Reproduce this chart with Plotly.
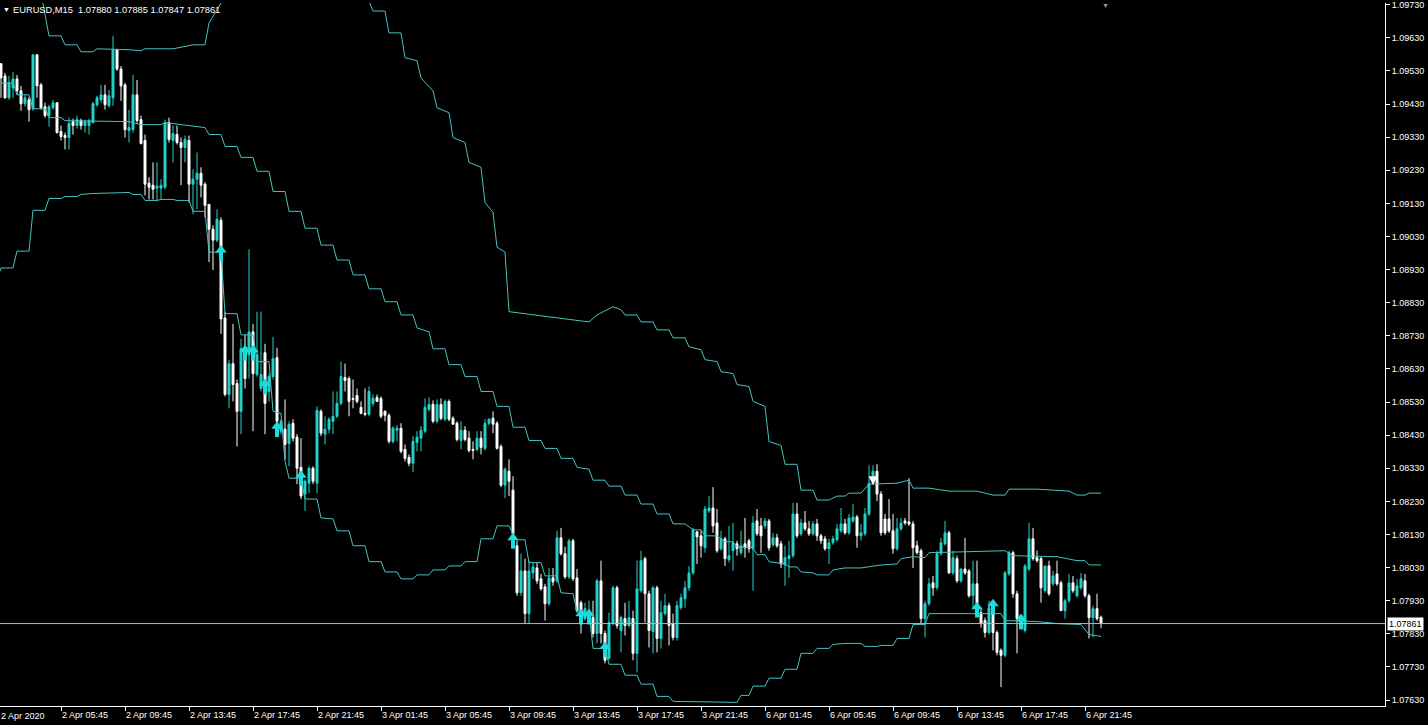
import plotly.graph_objects as go

# EURUSD M15, bar index 1 = first visible candle (index 0 = 2 Apr 01:45)
bar_idx = list(range(1, 277))

open_ = [
    1.09552, 1.09515, 1.09449, 1.09479, 1.09506, 1.09470, 1.09431, 1.09443, 1.09416, 1.09579,
    1.09488, 1.09422, 1.09395, 1.09419, 1.09434, 1.09347, 1.09335, 1.09329, 1.09377, 1.09365,
    1.09380, 1.09365, 1.09365, 1.09374, 1.09428, 1.09443, 1.09458, 1.09425, 1.09449, 1.09594,
    1.09536, 1.09488, 1.09350, 1.09353, 1.09458, 1.09383, 1.09320, 1.09191, 1.09185, 1.09176,
    1.09176, 1.09179, 1.09374, 1.09320, 1.09338, 1.09314, 1.09299, 1.09320, 1.09188, 1.09203,
    1.09221, 1.09188, 1.09127, 1.09052, 1.09019, 1.09079, 1.08784, 1.08553, 1.08646, 1.08586,
    1.08502, 1.08661, 1.08673, 1.08742, 1.08613, 1.08571, 1.08679, 1.08562, 1.08607, 1.08664,
    1.08442, 1.08448, 1.08405, 1.08466, 1.08424, 1.08333, 1.08252, 1.08285, 1.08330, 1.08285,
    1.08502, 1.08433, 1.08448, 1.08472, 1.08487, 1.08526, 1.08604, 1.08601, 1.08541, 1.08550,
    1.08514, 1.08496, 1.08493, 1.08526, 1.08544, 1.08541, 1.08502, 1.08490, 1.08411, 1.08445,
    1.08451, 1.08387, 1.08363, 1.08345, 1.08408, 1.08421, 1.08442, 1.08508, 1.08523, 1.08472,
    1.08523, 1.08478, 1.08532, 1.08481, 1.08466, 1.08414, 1.08445, 1.08421, 1.08387, 1.08387,
    1.08421, 1.08390, 1.08466, 1.08481, 1.08466, 1.08396, 1.08279, 1.08321, 1.08264, 1.08096,
    1.07954, 1.08020, 1.07891, 1.08014, 1.08029, 1.07996, 1.07972, 1.07921, 1.07999, 1.07990,
    1.08120, 1.08072, 1.08002, 1.08111, 1.07999, 1.07924, 1.07876, 1.07876, 1.07879, 1.07831,
    1.07990, 1.07831, 1.07756, 1.07861, 1.07969, 1.07840, 1.07876, 1.07855, 1.07876, 1.07771,
    1.07960, 1.08057, 1.07951, 1.07837, 1.07969, 1.07816, 1.07891, 1.07915, 1.07861, 1.07819,
    1.07909, 1.07936, 1.07969, 1.08014, 1.08138, 1.08126, 1.08090, 1.08201, 1.08210, 1.08165,
    1.08087, 1.08117, 1.08054, 1.08081, 1.08102, 1.08075, 1.08102, 1.08111, 1.08087, 1.08171,
    1.08156, 1.08156, 1.08171, 1.08099, 1.08120, 1.08102, 1.08038, 1.08057, 1.08066, 1.08192,
    1.08132, 1.08165, 1.08147, 1.08132, 1.08162, 1.08126, 1.08117, 1.08087, 1.08105, 1.08114,
    1.08141, 1.08162, 1.08135, 1.08171, 1.08183, 1.08126, 1.08132, 1.08192, 1.08306, 1.08321,
    1.08252, 1.08177, 1.08177, 1.08141, 1.08087, 1.08147, 1.08171, 1.08168, 1.08162, 1.08096,
    1.08081, 1.07876, 1.07921, 1.07984, 1.07969, 1.08072, 1.08102, 1.08135, 1.08014, 1.08057,
    1.07990, 1.08026, 1.08020, 1.07945, 1.07981, 1.07894, 1.07870, 1.07834, 1.07891, 1.07834,
    1.07780, 1.07765, 1.08011, 1.08075, 1.07951, 1.07846, 1.07840, 1.08026, 1.08117, 1.08060,
    1.08057, 1.07960, 1.08035, 1.07981, 1.08011, 1.07984, 1.07900, 1.07930, 1.07984, 1.07945,
    1.07969, 1.07990, 1.07945, 1.07879, 1.07906, 1.07880,
]
high = [
    1.09552, 1.09524, 1.09515, 1.09527, 1.09518, 1.09485, 1.09458, 1.09452, 1.09579, 1.09579,
    1.09494, 1.09434, 1.09428, 1.09443, 1.09434, 1.09365, 1.09344, 1.09389, 1.09386, 1.09395,
    1.09386, 1.09383, 1.09386, 1.09437, 1.09455, 1.09488, 1.09488, 1.09473, 1.09636, 1.09597,
    1.09545, 1.09494, 1.09413, 1.09518, 1.09503, 1.09395, 1.09338, 1.09209, 1.09254, 1.09254,
    1.09203, 1.09383, 1.09389, 1.09365, 1.09365, 1.09329, 1.09335, 1.09335, 1.09233, 1.09284,
    1.09239, 1.09194, 1.09127, 1.09064, 1.09112, 1.09088, 1.08803, 1.08658, 1.08766, 1.08598,
    1.08721, 1.08733, 1.08992, 1.08766, 1.08803, 1.08803, 1.08706, 1.08616, 1.08727, 1.08694,
    1.08478, 1.08538, 1.08472, 1.08478, 1.08433, 1.08421, 1.08297, 1.08336, 1.08336, 1.08517,
    1.08508, 1.08487, 1.08484, 1.08562, 1.08562, 1.08652, 1.08646, 1.08607, 1.08598, 1.08571,
    1.08532, 1.08571, 1.08577, 1.08553, 1.08553, 1.08547, 1.08505, 1.08496, 1.08457, 1.08460,
    1.08466, 1.08402, 1.08372, 1.08427, 1.08442, 1.08457, 1.08541, 1.08544, 1.08535, 1.08538,
    1.08541, 1.08538, 1.08538, 1.08487, 1.08472, 1.08472, 1.08457, 1.08442, 1.08411, 1.08442,
    1.08442, 1.08478, 1.08481, 1.08502, 1.08472, 1.08402, 1.08333, 1.08357, 1.08306, 1.08111,
    1.08072, 1.08057, 1.08051, 1.08045, 1.08045, 1.08011, 1.07981, 1.08029, 1.08029, 1.08141,
    1.08150, 1.08093, 1.08117, 1.08117, 1.08026, 1.07930, 1.07924, 1.07930, 1.07930, 1.07996,
    1.08051, 1.07840, 1.07894, 1.07975, 1.07975, 1.07885, 1.07924, 1.07930, 1.07900, 1.08051,
    1.08081, 1.08063, 1.07960, 1.07975, 1.07975, 1.07930, 1.07951, 1.07924, 1.07891, 1.07930,
    1.07951, 1.07990, 1.08035, 1.08150, 1.08141, 1.08141, 1.08216, 1.08246, 1.08273, 1.08207,
    1.08141, 1.08123, 1.08156, 1.08165, 1.08111, 1.08141, 1.08180, 1.08117, 1.08186, 1.08207,
    1.08180, 1.08180, 1.08177, 1.08135, 1.08132, 1.08111, 1.08096, 1.08111, 1.08225, 1.08225,
    1.08177, 1.08201, 1.08171, 1.08171, 1.08177, 1.08132, 1.08126, 1.08117, 1.08126, 1.08162,
    1.08210, 1.08177, 1.08192, 1.08222, 1.08189, 1.08162, 1.08210, 1.08339, 1.08339, 1.08342,
    1.08261, 1.08192, 1.08237, 1.08192, 1.08180, 1.08180, 1.08180, 1.08300, 1.08171, 1.08111,
    1.08087, 1.07930, 1.07999, 1.08005, 1.08081, 1.08120, 1.08171, 1.08141, 1.08081, 1.08066,
    1.08026, 1.08120, 1.08026, 1.08051, 1.08051, 1.07909, 1.07879, 1.07930, 1.07900, 1.07840,
    1.07786, 1.08020, 1.08081, 1.08081, 1.07960, 1.07885, 1.08041, 1.08165, 1.08150, 1.08081,
    1.08063, 1.08035, 1.08051, 1.08020, 1.08051, 1.07990, 1.07936, 1.08011, 1.08005, 1.07996,
    1.08014, 1.08011, 1.07951, 1.07915, 1.07951, 1.07885,
]
low = [
    1.09449, 1.09446, 1.09443, 1.09449, 1.09458, 1.09410, 1.09422, 1.09377, 1.09410, 1.09449,
    1.09413, 1.09389, 1.09362, 1.09413, 1.09341, 1.09320, 1.09293, 1.09293, 1.09338, 1.09356,
    1.09353, 1.09344, 1.09338, 1.09371, 1.09422, 1.09434, 1.09413, 1.09419, 1.09425, 1.09530,
    1.09440, 1.09329, 1.09314, 1.09344, 1.09374, 1.09308, 1.09154, 1.09142, 1.09142, 1.09139,
    1.09142, 1.09173, 1.09314, 1.09254, 1.09308, 1.09185, 1.09254, 1.09133, 1.09097, 1.09112,
    1.09148, 1.09088, 1.08953, 1.08929, 1.09013, 1.08736, 1.08547, 1.08511, 1.08532, 1.08396,
    1.08433, 1.08571, 1.08601, 1.08442, 1.08607, 1.08562, 1.08433, 1.08532, 1.08598, 1.08466,
    1.08433, 1.08357, 1.08336, 1.08411, 1.08282, 1.08237, 1.08201, 1.08255, 1.08282, 1.08255,
    1.08427, 1.08402, 1.08436, 1.08433, 1.08481, 1.08520, 1.08562, 1.08487, 1.08511, 1.08526,
    1.08493, 1.08487, 1.08487, 1.08517, 1.08532, 1.08481, 1.08472, 1.08405, 1.08405, 1.08411,
    1.08375, 1.08351, 1.08336, 1.08318, 1.08381, 1.08381, 1.08436, 1.08502, 1.08466, 1.08466,
    1.08475, 1.08472, 1.08472, 1.08463, 1.08411, 1.08387, 1.08411, 1.08378, 1.08357, 1.08381,
    1.08372, 1.08384, 1.08460, 1.08436, 1.08387, 1.08273, 1.08240, 1.08246, 1.08126, 1.07945,
    1.07945, 1.07861, 1.07861, 1.07996, 1.07981, 1.07960, 1.07870, 1.07915, 1.07975, 1.07984,
    1.08066, 1.07996, 1.07996, 1.07990, 1.07894, 1.07831, 1.07870, 1.07870, 1.07819, 1.07801,
    1.07801, 1.07741, 1.07750, 1.07855, 1.07846, 1.07774, 1.07825, 1.07849, 1.07750, 1.07714,
    1.07954, 1.07864, 1.07789, 1.07771, 1.07774, 1.07786, 1.07885, 1.07795, 1.07810, 1.07810,
    1.07903, 1.07909, 1.07960, 1.08008, 1.08041, 1.08060, 1.08075, 1.08195, 1.08135, 1.08075,
    1.08081, 1.08035, 1.08045, 1.08020, 1.08066, 1.08069, 1.08060, 1.08075, 1.07960, 1.08126,
    1.08075, 1.08147, 1.08081, 1.08093, 1.08090, 1.08029, 1.07975, 1.07999, 1.08060, 1.08120,
    1.08126, 1.08141, 1.08126, 1.08126, 1.08111, 1.08102, 1.08081, 1.08041, 1.08099, 1.08108,
    1.08135, 1.08129, 1.08129, 1.08165, 1.08090, 1.08111, 1.08126, 1.08186, 1.08297, 1.08231,
    1.08126, 1.08129, 1.08135, 1.08072, 1.08081, 1.08141, 1.08159, 1.08156, 1.08029, 1.08069,
    1.07861, 1.07819, 1.07915, 1.07945, 1.07963, 1.08066, 1.08096, 1.08011, 1.08008, 1.07984,
    1.07984, 1.08008, 1.07939, 1.07906, 1.07915, 1.07849, 1.07819, 1.07828, 1.07780, 1.07765,
    1.07669, 1.07759, 1.08005, 1.07939, 1.07771, 1.07846, 1.07834, 1.08020, 1.08051, 1.08045,
    1.07924, 1.07954, 1.07945, 1.07975, 1.07975, 1.07900, 1.07876, 1.07924, 1.07954, 1.07939,
    1.07963, 1.07939, 1.07816, 1.07819, 1.07870, 1.07847,
]
close = [
    1.09509, 1.09449, 1.09494, 1.09506, 1.09470, 1.09431, 1.09449, 1.09413, 1.09579, 1.09485,
    1.09419, 1.09395, 1.09422, 1.09434, 1.09344, 1.09332, 1.09329, 1.09371, 1.09365, 1.09383,
    1.09365, 1.09377, 1.09380, 1.09431, 1.09449, 1.09458, 1.09428, 1.09455, 1.09594, 1.09536,
    1.09485, 1.09353, 1.09359, 1.09458, 1.09380, 1.09311, 1.09188, 1.09179, 1.09173, 1.09182,
    1.09185, 1.09374, 1.09323, 1.09341, 1.09314, 1.09299, 1.09323, 1.09188, 1.09203, 1.09221,
    1.09185, 1.09124, 1.09052, 1.09019, 1.09082, 1.08781, 1.08553, 1.08646, 1.08583, 1.08502,
    1.08691, 1.08601, 1.08742, 1.08616, 1.08673, 1.08613, 1.08526, 1.08607, 1.08661, 1.08472,
    1.08472, 1.08402, 1.08463, 1.08421, 1.08330, 1.08246, 1.08291, 1.08330, 1.08291, 1.08505,
    1.08436, 1.08448, 1.08478, 1.08487, 1.08526, 1.08607, 1.08595, 1.08532, 1.08538, 1.08532,
    1.08496, 1.08493, 1.08562, 1.08541, 1.08532, 1.08487, 1.08490, 1.08411, 1.08451, 1.08451,
    1.08381, 1.08360, 1.08345, 1.08411, 1.08424, 1.08445, 1.08514, 1.08523, 1.08472, 1.08523,
    1.08481, 1.08532, 1.08478, 1.08463, 1.08417, 1.08445, 1.08417, 1.08384, 1.08384, 1.08421,
    1.08393, 1.08466, 1.08478, 1.08463, 1.08390, 1.08279, 1.08327, 1.08291, 1.08132, 1.07954,
    1.08020, 1.07891, 1.08020, 1.08032, 1.07990, 1.07966, 1.07921, 1.07999, 1.07987, 1.08120,
    1.08072, 1.08002, 1.08111, 1.07996, 1.07900, 1.07879, 1.07906, 1.07900, 1.07831, 1.07990,
    1.07831, 1.07750, 1.07864, 1.07969, 1.07855, 1.07879, 1.07855, 1.07879, 1.07771, 1.07966,
    1.08051, 1.07951, 1.07840, 1.07969, 1.07816, 1.07894, 1.07915, 1.07855, 1.07819, 1.07915,
    1.07939, 1.07969, 1.08014, 1.08144, 1.08123, 1.08096, 1.08207, 1.08210, 1.08156, 1.08081,
    1.08117, 1.08057, 1.08066, 1.08105, 1.08087, 1.08096, 1.08090, 1.08087, 1.08165, 1.08132,
    1.08126, 1.08171, 1.08090, 1.08120, 1.08096, 1.08041, 1.08060, 1.08066, 1.08192, 1.08126,
    1.08165, 1.08147, 1.08132, 1.08162, 1.08126, 1.08111, 1.08087, 1.08105, 1.08117, 1.08147,
    1.08162, 1.08135, 1.08180, 1.08183, 1.08126, 1.08135, 1.08192, 1.08285, 1.08321, 1.08252,
    1.08135, 1.08135, 1.08141, 1.08087, 1.08147, 1.08165, 1.08165, 1.08162, 1.08090, 1.08075,
    1.07876, 1.07921, 1.07981, 1.07969, 1.08072, 1.08105, 1.08135, 1.08014, 1.08060, 1.07990,
    1.08026, 1.08014, 1.07945, 1.07981, 1.07921, 1.07861, 1.07834, 1.07909, 1.07834, 1.07774,
    1.07765, 1.08014, 1.08075, 1.07951, 1.07876, 1.07885, 1.08035, 1.08117, 1.08057, 1.08051,
    1.07969, 1.08035, 1.07951, 1.08005, 1.07981, 1.07900, 1.07930, 1.07984, 1.07960, 1.07975,
    1.07996, 1.07945, 1.07879, 1.07906, 1.07876, 1.07861,
]

# channel lines (vertices: bar index, price); None = off-screen gap
upper_idx = [11, 13, 16, 17, 20, 21, 24, 25, 33, 36, 37, 44, 49, 52, 53, 56, 57, None,
             92, 94, 97, 98, 101, 102, 105, 106, 109, 110, 113, 114, 117, 118, 121, 122,
             124, 125, 127, 128, 148, 150, 154, 156, 157, 160, 161, 164, 165, 168, 169, 172,
             173, 176, 177, 180, 181, 184, 185, 188, 189, 192, 193, 196, 197, 200, 201, 204,
             205, 208, 210, 212, 213, 216, 218, 225, 228, 229, 233, 238, 245, 249, 252, 253,
             260, 263, 268, 270, 272, 273, 276]
upper_val = [1.09765, 1.09636, 1.09636, 1.09609, 1.09609, 1.09588, 1.09588, 1.09597, 1.09594,
             1.09591, 1.09597, 1.09597, 1.09609, 1.09609, 1.09675, 1.09735, 1.09780, None,
             1.09771, 1.09711, 1.09711, 1.09645, 1.09645, 1.09570, 1.09561, 1.09509, 1.09470,
             1.09419, 1.09404, 1.09329, 1.09314, 1.09254, 1.09239, 1.09133, 1.09103, 1.08998,
             1.08983, 1.08803, 1.08772, 1.08793, 1.08818, 1.08809, 1.08793, 1.08793, 1.08772,
             1.08772, 1.08748, 1.08748, 1.08724, 1.08724, 1.08697, 1.08688, 1.08658, 1.08652,
             1.08622, 1.08616, 1.08583, 1.08577, 1.08532, 1.08517, 1.08411, 1.08399, 1.08342,
             1.08342, 1.08264, 1.08264, 1.08234, 1.08234, 1.08246, 1.08246, 1.08255, 1.08255,
             1.08282, 1.08285, 1.08294, 1.08270, 1.08270, 1.08261, 1.08261, 1.08249, 1.08249,
             1.08267, 1.08267, 1.08264, 1.08261, 1.08249, 1.08249, 1.08255, 1.08255]

middle_idx = [1, 4, 5, 8, 9, 12, 13, 16, 17, 33, 36, 41, 42, 48, 52, 53, 56, 57, 60, 61, 64,
              65, 68, 69, 72, 73, 76, 77, 80, 81, 84, 85, 88, 89, 92, 93, 96, 97, 100, 101,
              104, 105, 108, 109, 112, 113, 116, 117, 120, 121, 124, 125, 128, 129, 132, 133,
              136, 137, 140, 141, 144, 145, 148, 149, 152, 153, 156, 157, 160, 161, 164, 165,
              168, 169, 172, 174, 176, 177, 180, 182, 184, 185, 189, 190, 192, 193, 197, 198,
              200, 201, 204, 205, 208, 209, 212, 216, 221, 225, 226, 229, 232, 233, 252, 254,
              265, 270, 272, 273, 276]
middle_val = [1.09494, 1.09494, 1.09458, 1.09458, 1.09416, 1.09416, 1.09389, 1.09389, 1.09380,
              1.09377, 1.09368, 1.09368, 1.09374, 1.09365, 1.09359, 1.09338, 1.09338, 1.09302,
              1.09302, 1.09269, 1.09269, 1.09227, 1.09227, 1.09166, 1.09166, 1.09106, 1.09106,
              1.09055, 1.09055, 1.09004, 1.09004, 1.08959, 1.08959, 1.08914, 1.08914, 1.08872,
              1.08872, 1.08833, 1.08833, 1.08793, 1.08793, 1.08754, 1.08742, 1.08691, 1.08691,
              1.08643, 1.08643, 1.08607, 1.08607, 1.08562, 1.08562, 1.08517, 1.08517, 1.08454,
              1.08454, 1.08414, 1.08414, 1.08390, 1.08390, 1.08360, 1.08360, 1.08333, 1.08327,
              1.08294, 1.08294, 1.08276, 1.08276, 1.08249, 1.08249, 1.08222, 1.08222, 1.08192,
              1.08192, 1.08162, 1.08162, 1.08144, 1.08144, 1.08126, 1.08126, 1.08108, 1.08108,
              1.08093, 1.08090, 1.08069, 1.08069, 1.08048, 1.08041, 1.08032, 1.08032, 1.08017,
              1.08014, 1.08008, 1.08008, 1.08023, 1.08029, 1.08029, 1.08038, 1.08041, 1.08057,
              1.08063, 1.08060, 1.08075, 1.08081, 1.08066, 1.08063, 1.08051, 1.08051, 1.08038,
              1.08038]

lower_idx = [0, 1, 4, 5, 8, 9, 12, 13, 16, 17, 20, 21, 24, 33, 34, 36, 37, 40, 41, 44, 45,
             48, 49, 52, 53, 56, 57, 60, 61, 64, 65, 68, 69, 71, 72, 73, 76, 77, 80, 81, 84,
             85, 88, 89, 92, 93, 96, 97, 100, 101, 104, 105, 108, 109, 112, 113, 116, 117,
             120, 121, 124, 125, 128, 129, 130, 132, 133, 136, 137, 140, 141, 144, 145, 148,
             149, 152, 153, 156, 157, 160, 161, 164, 165, 168, 169, 185, 186, 188, 189, 192,
             193, 196, 197, 200, 201, 204, 205, 208, 209, 212, 216, 217, 220, 221, 224, 225,
             228, 229, 232, 233, 251, 252, 260, 265, 271, 273, 276]
lower_val = [1.08899, 1.08935, 1.08935, 1.08986, 1.08986, 1.09109, 1.09109, 1.09145, 1.09145,
             1.09151, 1.09151, 1.09157, 1.09160, 1.09163, 1.09157, 1.09157, 1.09139, 1.09139,
             1.09142, 1.09142, 1.09139, 1.09139, 1.09106, 1.09106, 1.08983, 1.08983, 1.08797,
             1.08797, 1.08733, 1.08733, 1.08652, 1.08652, 1.08502, 1.08496, 1.08351, 1.08300,
             1.08300, 1.08237, 1.08237, 1.08180, 1.08177, 1.08141, 1.08141, 1.08096, 1.08096,
             1.08048, 1.08048, 1.08017, 1.08017, 1.07996, 1.07996, 1.08008, 1.08008, 1.08023,
             1.08023, 1.08035, 1.08035, 1.08048, 1.08048, 1.08117, 1.08117, 1.08156, 1.08156,
             1.08132, 1.08114, 1.08114, 1.08045, 1.08045, 1.08005, 1.08005, 1.07954, 1.07951,
             1.07900, 1.07894, 1.07786, 1.07786, 1.07738, 1.07738, 1.07705, 1.07705, 1.07678,
             1.07678, 1.07641, 1.07641, 1.07626, 1.07623, 1.07644, 1.07644, 1.07672, 1.07672,
             1.07696, 1.07696, 1.07723, 1.07723, 1.07771, 1.07771, 1.07786, 1.07786, 1.07798,
             1.07801, 1.07801, 1.07792, 1.07792, 1.07795, 1.07795, 1.07816, 1.07816, 1.07858,
             1.07858, 1.07891, 1.07891, 1.07870, 1.07867, 1.07861, 1.07858, 1.07828, 1.07822]

# signal arrows (centre of the arrow glyph)
buy_idx = [56, 62, 64, 67, 70, 76, 129, 146, 148, 152, 245, 249, 256]
buy_val = [1.08980, 1.08679, 1.08679, 1.08577, 1.08448, 1.08300, 1.08111, 1.07882, 1.07882,
           1.07783, 1.07903, 1.07912, 1.07867]
sell_idx = [219]
sell_val = [1.08279]

last_price = 1.07861
title_text = "EURUSD,M15  1.07880 1.07885 1.07847 1.07861"

y_ticks = [1.07630, 1.07730, 1.07830, 1.07930, 1.08030, 1.08130, 1.08230, 1.08330,
           1.08430, 1.08530, 1.08630, 1.08730, 1.08830, 1.08930, 1.09030, 1.09130,
           1.09230, 1.09330, 1.09430, 1.09530, 1.09630, 1.09730]
x_tick_idx = [16, 32, 48, 64, 80, 96, 112, 128, 144, 160, 176, 192, 208, 224, 240, 256, 272]
x_tick_text = ["2 Apr 05:45", "2 Apr 09:45", "2 Apr 13:45", "2 Apr 17:45", "2 Apr 21:45",
               "3 Apr 01:45", "3 Apr 05:45", "3 Apr 09:45", "3 Apr 13:45", "3 Apr 17:45",
               "3 Apr 21:45", "6 Apr 01:45", "6 Apr 05:45", "6 Apr 09:45", "6 Apr 13:45",
               "6 Apr 17:45", "6 Apr 21:45"]
first_label = "2 Apr 2020"

BULL = "#22D3C8"
BEAR = "#FFFFFF"
LINE_C = "#45C4C0"
ARROW_C = "#1EDCDC"

fig = go.Figure()

for idx, val in [(upper_idx, upper_val), (middle_idx, middle_val), (lower_idx, lower_val)]:
    fig.add_trace(go.Scatter(
        x=idx, y=val, mode="lines",
        line=dict(color=LINE_C, width=1),
        connectgaps=False, hoverinfo="skip"
    ))

fig.add_trace(go.Candlestick(
    x=bar_idx, open=open_, high=high, low=low, close=close,
    increasing=dict(line=dict(color=BULL, width=1), fillcolor=BULL),
    decreasing=dict(line=dict(color=BEAR, width=1), fillcolor=BEAR),
    whiskerwidth=0, hoverinfo="skip"
))

# buy arrows: head + shaft (about 3 px above / below the centre)
fig.add_trace(go.Scatter(
    x=buy_idx, y=[v - 0.00009 for v in buy_val], mode="markers",
    marker=dict(symbol="line-ns", size=7, line=dict(color=ARROW_C, width=4)),
    hoverinfo="skip"
))
fig.add_trace(go.Scatter(
    x=buy_idx, y=[v + 0.00009 for v in buy_val], mode="markers",
    marker=dict(symbol="triangle-up", size=10, color=ARROW_C, line=dict(width=0)),
    hoverinfo="skip"
))
fig.add_trace(go.Scatter(
    x=sell_idx, y=sell_val, mode="markers",
    marker=dict(symbol="arrow-down", size=9, color=BEAR, line=dict(width=0)),
    hoverinfo="skip"
))

# current price line
fig.add_hline(y=last_price, line_color="#AEB6C0", line_width=1)

fig.add_annotation(
    x=1, xref="paper", y=last_price, yref="y", xanchor="left", yanchor="middle",
    text=f"{last_price:.5f}", showarrow=False, xshift=2,
    bgcolor="white", borderpad=1, font=dict(color="black", size=9)
)
fig.add_annotation(
    x=0, xref="paper", y=1, yref="paper", xanchor="left", yanchor="top",
    text="▼", showarrow=False, xshift=1, yshift=-1, font=dict(color="white", size=7)
)
fig.add_annotation(
    x=0, xref="paper", y=1, yref="paper", xanchor="left", yanchor="top",
    text=title_text, showarrow=False, xshift=11, yshift=0, font=dict(color="white", size=9.3)
)
fig.add_annotation(
    x=0, xref="paper", y=0, yref="paper", xanchor="left", yanchor="top",
    text=first_label, showarrow=False, xshift=-1, yshift=-3, font=dict(color="white", size=9)
)
fig.add_annotation(
    x=1105 / 1385, xref="paper", y=1, yref="paper", xanchor="center", yanchor="top",
    text="▼", showarrow=False, yshift=3, font=dict(color="#8C98A8", size=7)
)

fig.update_layout(
    width=1428, height=725,
    paper_bgcolor="black", plot_bgcolor="black",
    margin=dict(l=0, r=43, t=0, b=19),
    showlegend=False,
    font=dict(family="Liberation Sans, Arial, sans-serif", size=9, color="white"),
)
fig.update_xaxes(
    range=[0.75, 347], tickvals=x_tick_idx, ticktext=x_tick_text,
    ticklabelposition="outside right", ticks="outside", ticklen=4, tickcolor="white",
    showline=True, linecolor="white", linewidth=1, showgrid=False, zeroline=False,
    rangeslider=dict(visible=False)
)
fig.update_yaxes(
    side="right", range=[1.07612, 1.097353], tickvals=y_ticks,
    ticktext=[f"{v:.5f}" for v in y_ticks], ticklabeloverflow="allow",
    ticks="outside", ticklen=4, tickcolor="white",
    showline=True, linecolor="white", linewidth=1, showgrid=False, zeroline=False
)

fig.write_html("out.html", config={"displayModeBar": False},
               post_script="document.body.style.margin='0';")
